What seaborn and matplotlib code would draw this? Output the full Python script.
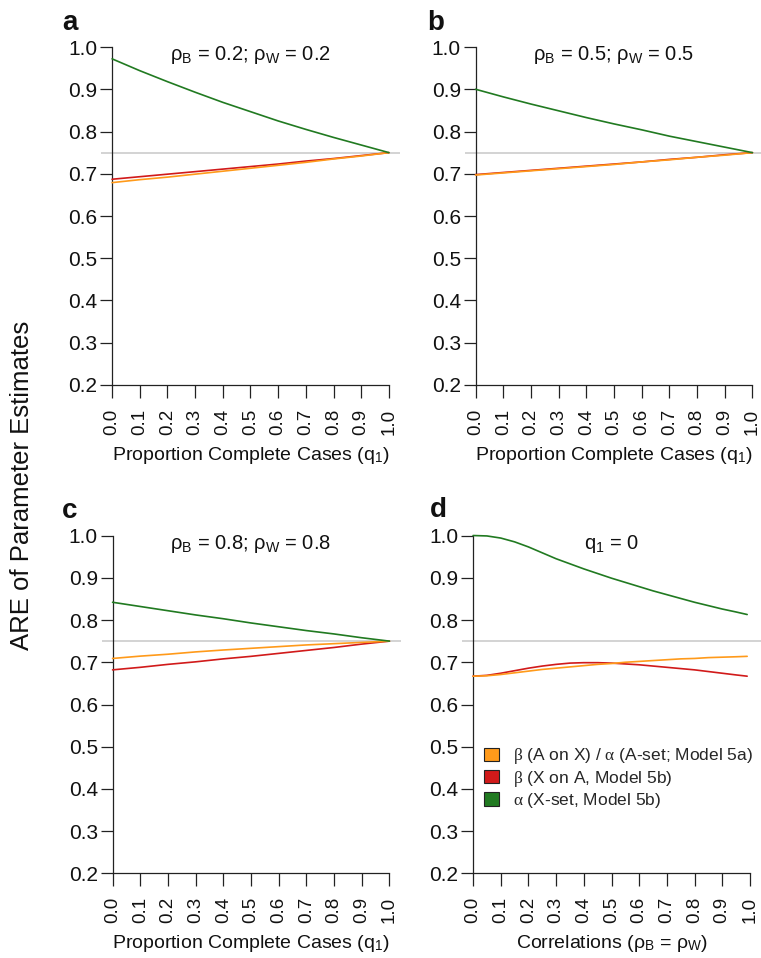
import numpy as np
import pandas as pd
import matplotlib
matplotlib.use("Agg")
import matplotlib.pyplot as plt
import seaborn as sns
from matplotlib.patches import Patch

sns.set_theme(style="white")
plt.rcParams['font.family'] = ['Liberation Sans', 'DejaVu Sans']
plt.rcParams['mathtext.fontset'] = 'custom'
plt.rcParams['mathtext.rm'] = 'Liberation Sans'
plt.rcParams['mathtext.it'] = 'Liberation Serif'
plt.rcParams['mathtext.bf'] = 'Liberation Sans:bold'

# ---------------- data ----------------
q1 = [0.0, 0.1, 0.2, 0.3, 0.4, 0.5, 0.6, 0.7, 0.8, 0.9, 1.0]

a_orange = [0.679, 0.686, 0.692, 0.699, 0.706, 0.713, 0.720, 0.727, 0.735, 0.742, 0.750]
a_red    = [0.687, 0.693, 0.699, 0.705, 0.711, 0.717, 0.723, 0.730, 0.736, 0.743, 0.750]
a_green  = [0.972, 0.944, 0.918, 0.893, 0.869, 0.847, 0.825, 0.805, 0.786, 0.768, 0.750]

b_orange = [0.697, 0.702, 0.707, 0.712, 0.717, 0.722, 0.728, 0.733, 0.739, 0.744, 0.750]
b_red    = [0.698, 0.703, 0.708, 0.713, 0.718, 0.723, 0.728, 0.734, 0.739, 0.745, 0.750]
b_green  = [0.900, 0.882, 0.865, 0.849, 0.833, 0.818, 0.804, 0.789, 0.776, 0.763, 0.750]

c_orange = [0.709, 0.7145, 0.719, 0.7245, 0.729, 0.733, 0.737, 0.741, 0.744, 0.747, 0.750]
c_red    = [0.682, 0.688, 0.695, 0.701, 0.708, 0.714, 0.721, 0.728, 0.735, 0.743, 0.750]
c_green  = [0.842, 0.832, 0.822, 0.812, 0.803, 0.793, 0.784, 0.775, 0.767, 0.758, 0.750]

rho = [0.0, 0.05, 0.1, 0.15, 0.2, 0.25, 0.3, 0.35, 0.4, 0.45, 0.5,
       0.55, 0.6, 0.65, 0.7, 0.75, 0.8, 0.85, 0.9, 0.95, 0.99]
d_orange = [0.667, 0.668, 0.671, 0.675, 0.679, 0.683, 0.686, 0.689, 0.692, 0.695, 0.697,
            0.700, 0.702, 0.704, 0.706, 0.708, 0.709, 0.711, 0.712, 0.713, 0.714]
d_red    = [0.667, 0.669, 0.674, 0.680, 0.686, 0.691, 0.695, 0.698, 0.699, 0.699, 0.698,
            0.696, 0.694, 0.691, 0.688, 0.685, 0.682, 0.678, 0.674, 0.670, 0.667]
d_green  = [1.000, 0.999, 0.994, 0.985, 0.973, 0.959, 0.945, 0.933, 0.921, 0.910, 0.899,
            0.889, 0.879, 0.869, 0.860, 0.851, 0.842, 0.834, 0.826, 0.819, 0.813]

series_names = ["β (A on X) / α (A-set; Model 5a)", "β (X on A, Model 5b)", "α (X-set, Model 5b)"]
legend_labels = [r"$\beta$ (A on X) / $\alpha$ (A-set; Model 5a)",
                 r"$\beta$ (X on A, Model 5b)",
                 r"$\alpha$ (X-set, Model 5b)"]
colors = ["#FF9A1A", "#D11A1A", "#217A21"]

x_ticks = [0.0, 0.1, 0.2, 0.3, 0.4, 0.5, 0.6, 0.7, 0.8, 0.9, 1.0]
y_ticks = [0.2, 0.3, 0.4, 0.5, 0.6, 0.7, 0.8, 0.9, 1.0]
ref_line = 0.75

panel_letters = ["a", "b", "c", "d"]
panel_titles = ["ρ$_\\mathrm{B}$ = 0.2; ρ$_\\mathrm{W}$ = 0.2",
                "ρ$_\\mathrm{B}$ = 0.5; ρ$_\\mathrm{W}$ = 0.5",
                "ρ$_\\mathrm{B}$ = 0.8; ρ$_\\mathrm{W}$ = 0.8",
                "q$_\\mathrm{1}$ = 0"]
x_labels = ["Proportion Complete Cases (q$_\\mathrm{1}$)"] * 3 + \
           ["Correlations (ρ$_\\mathrm{B}$ = ρ$_\\mathrm{W}$)"]
y_label = "ARE of Parameter Estimates"

panels = [
    (q1, a_orange, a_red, a_green),
    (q1, b_orange, b_red, b_green),
    (q1, c_orange, c_red, c_green),
    (rho, d_orange, d_red, d_green),
]

# ---------------- figure ----------------
W, H = 761, 958
fig = plt.figure(figsize=(W / 100, H / 100), dpi=100)

def frac(left_px, top_px, right_px, bottom_px):
    return [left_px / W, 1 - bottom_px / H, (right_px - left_px) / W, (bottom_px - top_px) / H]

# axes boxes (pixel) -- data range x [-0.04,1.04], y [0.168,1.032]
boxes = [frac(101, 33.5, 400, 398.5),
         frac(464.5, 33.5, 763.5, 398.5),
         frac(101.5, 522, 400.5, 887),
         frac(462, 522, 761, 887)]
letter_pos = [(62, 30), (427, 30), (62, 518), (430, 517)]

for i, (xv, yo, yr, yg) in enumerate(panels):
    ax = fig.add_axes(boxes[i])
    ax.set_xlim(-0.04, 1.04)
    ax.set_ylim(0.168, 1.032)
    ax.axhline(ref_line, color="#c8c8c8", lw=1.1, zorder=1)
    df = pd.DataFrame({
        "x": list(xv) * 3,
        "y": list(yr) + list(yo) + list(yg),
        "s": [series_names[1]] * len(xv) + [series_names[0]] * len(xv) + [series_names[2]] * len(xv),
    })
    pal = {series_names[0]: colors[0], series_names[1]: colors[1], series_names[2]: colors[2]}
    sns.lineplot(data=df, x="x", y="y", hue="s", palette=pal, lw=1.2, ax=ax,
                 legend=False, sort=False, estimator=None, zorder=3)
    for sp in ["top", "right"]:
        ax.spines[sp].set_visible(False)
    ax.spines["left"].set_position(("data", 0.0))
    ax.spines["bottom"].set_position(("data", 0.2))
    ax.spines["left"].set_bounds(0.2, 1.0)
    ax.spines["bottom"].set_bounds(0.0, 1.0)
    for sp in ["left", "bottom"]:
        ax.spines[sp].set_color("#222222")
        ax.spines[sp].set_linewidth(0.9)
    ax.set_xticks(x_ticks)
    ax.set_xticklabels([f"{t:.1f}" for t in x_ticks], rotation=90)
    ax.set_yticks(y_ticks)
    ax.set_yticklabels([f"{t:.1f}" for t in y_ticks])
    ax.tick_params(axis="both", direction="out", length=9, width=0.9,
                   color="#222222", labelcolor="#111111")
    ax.tick_params(axis="x", pad=8, labelsize=13.5)
    ax.tick_params(axis="y", pad=1.5, labelsize=15)
    ax.tick_params(bottom=True, left=True)
    ax.set_xlabel(x_labels[i], fontsize=14, color="#111111", labelpad=7)
    ax.set_ylabel("")
    ax.text(0.5, 0.981, panel_titles[i], ha="center", va="center",
            fontsize=14.5, color="#111111")
    lx, ly = letter_pos[i]
    fig.text(lx / W, 1 - ly / H, panel_letters[i], fontsize=20, fontweight="bold",
             ha="left", va="baseline", color="#111111")
    if i == 3:
        handles = [Patch(facecolor=c, edgecolor="#222222", lw=0.8) for c in colors]
        ax.legend(handles, legend_labels, loc="upper left",
                  bbox_to_anchor=(481 / W, 1 - 743 / H), bbox_transform=fig.transFigure,
                  frameon=False, fontsize=12.5, handlelength=0.85, handleheight=0.85,
                  handletextpad=0.8, labelspacing=0.12, borderpad=0.2, borderaxespad=0)

fig.text(22 / W, 1 - 485 / H, y_label, rotation=90, ha="center", va="center",
         fontsize=18.5, color="#111111")

fig.savefig("out.png", dpi=100)
